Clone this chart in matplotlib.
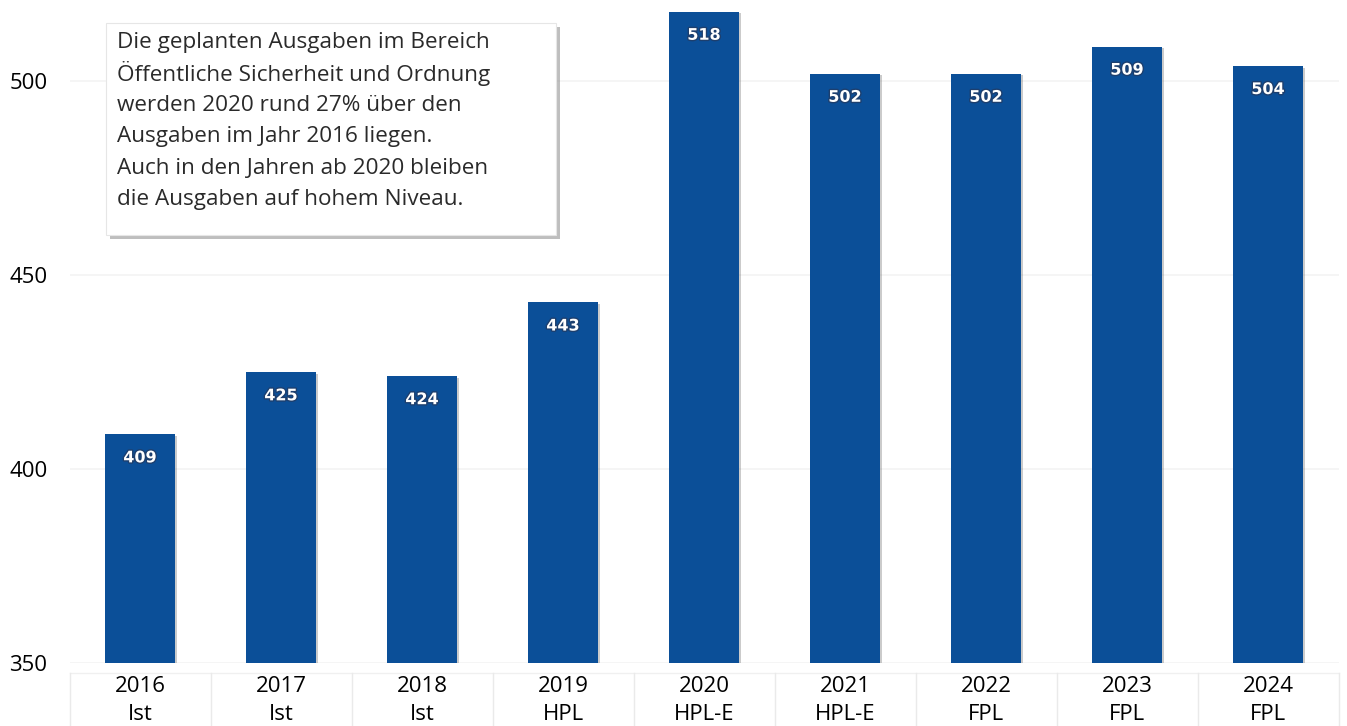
import matplotlib
matplotlib.use('Agg')
import matplotlib.pyplot as plt
from matplotlib.patches import Rectangle
import matplotlib.patheffects as pe

# Ausgaben Öffentliche Sicherheit und Ordnung
years = ['2016', '2017', '2018', '2019', '2020', '2021', '2022', '2023', '2024']
kinds = ['Ist', 'Ist', 'Ist', 'HPL', 'HPL-E', 'HPL-E', 'FPL', 'FPL', 'FPL']
values = [409, 425, 424, 443, 518, 502, 502, 509, 504]
y_ticks = [350, 400, 450, 500]
note_lines = ['Die geplanten Ausgaben im Bereich',
              'Öffentliche Sicherheit und Ordnung',
              'werden 2020 rund 27% über den',
              'Ausgaben im Jahr 2016 liegen.',
              'Auch in den Jahren ab 2020 bleiben',
              'die Ausgaben auf hohem Niveau.']

plt.rcParams['font.family'] = ['Open Sans', 'DejaVu Sans']

W, H = 1347, 726
fig = plt.figure(figsize=(W / 100, H / 100), dpi=100)
ax = fig.add_axes([69.5 / W, (H - 663) / H, (1338.5 - 69.5) / W, 663 / H])

x = list(range(len(values)))
bars = ax.bar(x, values, width=0.5, color='#0b4f98', zorder=3,
              path_effects=[pe.SimplePatchShadow(offset=(1.2, -1.2), shadow_rgbFace='#555555', alpha=0.3),
                            pe.Normal()])

for i, v in zip(x, values):
    ax.annotate(str(v), xy=(i, v), xytext=(0, -17), textcoords='offset points',
                ha='center', va='center', color='white', fontsize=11.5, fontweight='bold',
                family='DejaVu Sans', zorder=4,
                path_effects=[pe.withStroke(linewidth=2, foreground='#1d3f6e')])

ax.set_xlim(-0.5, len(values) - 0.5)
ax.set_ylim(350, 521)
ax.set_yticks(y_ticks)
ax.set_xticks(x)
ax.set_xticklabels([f'{y}\n{k}' for y, k in zip(years, kinds)], linespacing=1.45)
ax.tick_params(axis='both', length=0, labelsize=16, colors='black')
ax.tick_params(axis='x', pad=9)
ax.tick_params(axis='y', pad=16)
ax.grid(axis='y', color='#f3f3f3', linewidth=1.2, zorder=0)
for s in ax.spines.values():
    s.set_visible(False)

# faint table cells under the axis
trans = ax.get_xaxis_transform()
ax.plot([-0.5, len(values) - 0.5], [-0.015, -0.015], color='#f0f0f0', lw=1,
        transform=trans, clip_on=False)
for b in range(len(values) + 1):
    ax.plot([b - 0.5, b - 0.5], [-0.015, -0.1], color='#eaeaea', lw=1,
            transform=trans, clip_on=False)

# note box with shadow
box = Rectangle((106 / W, 1 - 235 / H), 450 / W, 212 / H, transform=fig.transFigure,
                facecolor='white', edgecolor='#e6e6e6', lw=0.8, zorder=10, clip_on=False,
                path_effects=[pe.SimplePatchShadow(offset=(3, -3), shadow_rgbFace='#8a8a8a', alpha=0.55),
                              pe.Normal()])
fig.patches.append(box)
for n, line in enumerate(note_lines):
    fig.text(117 / W, 1 - (40 + 31.4 * n) / H, line, ha='left', va='center_baseline',
             fontsize=16.2, color='#2a2a2a', zorder=11)

fig.savefig('out.png', dpi=100, facecolor='white')
